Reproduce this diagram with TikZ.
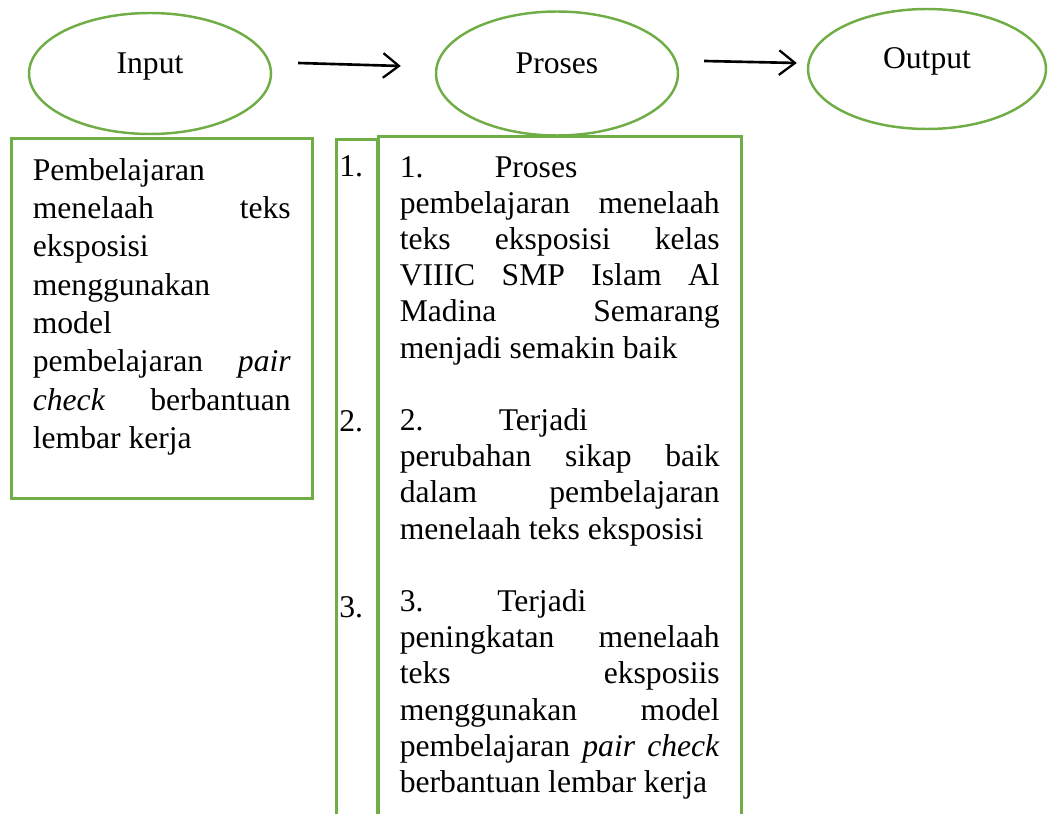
\documentclass[tikz,border=0pt]{standalone}
\usepackage{fontspec}
\setmainfont{Liberation Serif}
\usetikzlibrary{arrows.meta, positioning, shapes.geometric}
\definecolor{boxgreen}{RGB}{112,173,71}
\tolerance=10000
\hyphenpenalty=10000
\hbadness=10000
\parindent=0pt

\begin{document}
\begin{tikzpicture}[x=0.02cm, y=-0.02cm,
  stage/.style={ellipse, draw=boxgreen, line width=1.4pt, inner sep=0pt,
    text height=0.45cm, text depth=0.45cm, font=\fontsize{18}{21}\selectfont},
  flow/.style={-{Straight Barb[length=9pt,width=14pt,line width=1.3pt]}, line width=1.5pt},
  txtbox/.style={draw=boxgreen, line width=1.5pt, anchor=north west,
    align=justify, inner xsep=0.43cm, inner ysep=0.4cm},
  numlbl/.style={anchor=base west, inner sep=0pt, font=\fontsize{18}{21}\selectfont}]
  \useasboundingbox (0,0) rectangle (1049,814);
  \clip (0,0) rectangle (1049,814);
  % Stages
  \node[stage, minimum width=4.84cm, minimum height=2.42cm] (in) at (150,73.5) {Input};
  \node[stage, minimum width=4.84cm, minimum height=2.48cm] (pr) at (557,73.5) {Proses};
  \node[stage, minimum width=4.76cm, minimum height=2.4cm] (out) at (927,69) {Output};
  \draw[flow] ([shift={(26,-10.5)}]in.east) -- ([shift={(-34,-7.5)}]pr.west);
  \draw[flow] ([shift={(25,-12.5)}]pr.east) -- ([shift={(-10,-6)}]out.west);
  % Input box
  \node[txtbox, text width=5.16cm, font=\fontsize{18}{21.8}\selectfont] (inbox) at (10,137) {%
    Pembelajaran\linebreak
    menelaah teks\linebreak
    eksposisi\linebreak
    menggunakan\linebreak
    model\linebreak
    pembelajaran \textit{pair}\linebreak
    \textit{check} berbantuan\linebreak
    lembar kerja\rule[-0.6cm]{0pt}{0pt}};
  % Proses boxes (open at the bottom)
  \node[draw=boxgreen, line width=1.5pt, anchor=north west, inner sep=0pt,
    minimum width=0.82cm, minimum height=14cm] (numbox) at (335,138) {};
  \node[txtbox, text width=6.4cm, font=\fontsize{18}{20.6}\selectfont] (prbox) at (377,135) {%
    \makebox[1.9cm][l]{1.}Proses\linebreak
    pembelajaran menelaah\linebreak
    teks eksposisi kelas\linebreak
    VIIIC SMP Islam Al\linebreak
    Madina Semarang\linebreak
    menjadi semakin baik\par
    \mbox{}\par
    \makebox[1.98cm][l]{2.}Terjadi\linebreak
    perubahan sikap baik\linebreak
    dalam pembelajaran\linebreak
    menelaah teks eksposisi\par
    \mbox{}\par
    \makebox[1.95cm][l]{3.}Terjadi\linebreak
    peningkatan menelaah\linebreak
    teks eksposiis\linebreak
    menggunakan model\linebreak
    pembelajaran \textit{pair check}\linebreak
    berbantuan lembar kerja\rule[-1.5cm]{0pt}{0pt}};
  \node[numlbl] (n1) at (339,177) {1.};
  \node[numlbl] (n2) at (339,432) {2.};
  \node[numlbl] (n3) at (339,617) {3.};
\end{tikzpicture}
\end{document}
